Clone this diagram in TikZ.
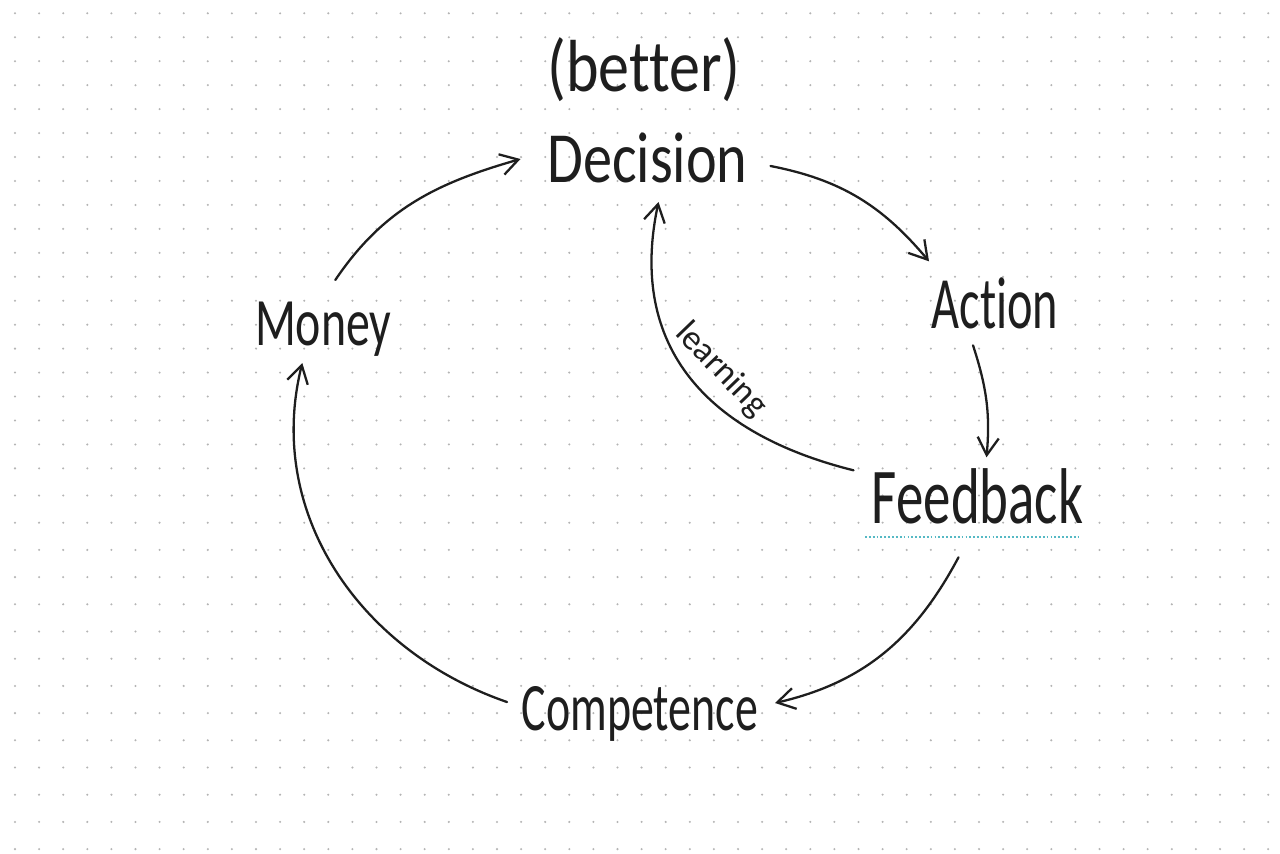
\documentclass[tikz,border=0pt]{standalone}
\usepackage{fontspec}
\setmainfont{Carlito}[Ligatures={NoCommon}]
\usepackage{graphicx}
\usetikzlibrary{arrows.meta,calc}
\newdimen\pxu \pxu=0.5669pt
\newcommand{\hw}[3]{\fontsize{#1pt}{#1pt}\selectfont\resizebox{#2\pxu}{\height}{#3}}
\definecolor{ink}{HTML}{1E1E1E}
\definecolor{dotc}{HTML}{B4B4B4}
\definecolor{hl}{HTML}{56B9C4}
\begin{document}
\begin{tikzpicture}[x=0.02cm,y=0.02cm,
  word/.style={anchor=base,inner sep=0pt,text=ink},
  arr/.style={draw=ink,line width=1.3pt,line cap=round,-{Straight Barb[length=10pt,width=12pt]}}]
\fill[white] (0,0) rectangle (1280,-853);
\useasboundingbox (0,0) rectangle (1280,-853);
% dotted paper
\foreach \i in {0,...,52}{
  \foreach \j in {0,...,19}{\fill[dotc] (15+24.1*\i,-13.3-23.95*\j) circle[radius=0.65pt];}
  \foreach \j in {1,...,14}{\fill[dotc] (15+24.1*\i,-468.3-27.2*\j) circle[radius=0.65pt];}
}
% words
\node[word] (better) at (644,-91.7) {\hw{42}{194}{(better)}};
\node[word] (decision) at (647.5,-182) {\hw{41}{201}{Decision}};
\node[word] (action) at (995,-328.3) {\hw{42}{127}{Action}};
\node[word] (money) at (323.3,-345) {\hw{38.6}{137}{Money}};
\node[word] (feedback) at (977.5,-523.3) {\hw{45}{212}{Feedback}};
\node[word] (competence) at (640,-730) {\hw{38.6}{237}{Competence}};
\node[inner sep=0pt,text=ink,rotate=-46] (learning) at (721,-370) {\fontsize{20pt}{20pt}\selectfont learning};
% highlight under Feedback
\draw[hl,line width=1.1pt,dash pattern=on 1pt off 1.2pt] ($(feedback.base)+(-112.5,-14)$) -- ($(feedback.base)+(101,-14)$);
% connectors
\draw[arr] ($(money.base)+(12,65)$) to[out=56,in=196] ($(decision.base)+(-127,23)$);
\draw[arr] ($(decision.base)+(123,16)$) to[out=-11,in=130] ($(action.base)+(-66,67)$);
\draw[arr] ($(action.base)+(-22,-17)$) to[out=-72,in=85] ($(feedback.base)+(9,66)$);
\draw[arr] ($(feedback.base)+(-124,53)$) to[out=166,in=258,looseness=1.15] ($(decision.base)+(11,-20)$);
\draw[arr] ($(feedback.base)+(-19,-34)$) to[out=-118,in=13] ($(competence.base)+(135,27)$);
\draw[arr] ($(competence.base)+(-133,28)$) to[out=161,in=256] ($(money.base)+(-21,-18)$);
\end{tikzpicture}
\end{document}
